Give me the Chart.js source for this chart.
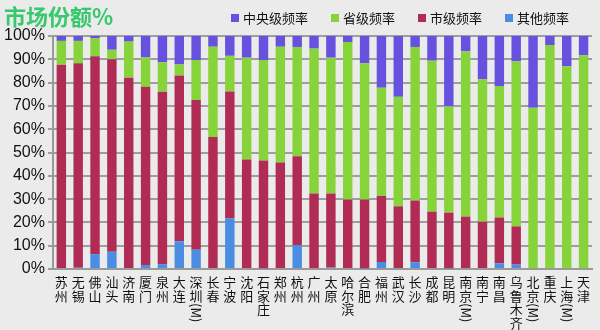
<!DOCTYPE html>
<html lang="zh">

<head>
    <meta charset="UTF-8">
    <script src="https://cdn.jsdelivr.net/npm/chart.js@4.4.3/dist/chart.umd.min.js"></script>
    <style>
        html, body {
            margin: 0;
            padding: 0;
            background: #ebebeb;
        }
    </style>
</head>

<body>
    <canvas id="chart" width="600" height="330"></canvas>

    <script>
        const cities = ["苏州", "无锡", "佛山", "汕头", "济南", "厦门", "泉州", "大连", "深圳(M)", "长春",
            "宁波", "沈阳", "石家庄", "郑州", "杭州", "广州", "太原", "哈尔滨", "合肥", "福州",
            "武汉", "长沙", "成都", "昆明", "南京(M)", "南宁", "南昌", "乌鲁木齐", "北京(M)", "重庆",
            "上海(M)", "天津"];

        // 其他频率 (bottom of each bar)
        const other = [0, 0.5, 6.4, 7.4, 0, 1.7, 2.1, 11.9, 8.3, 0,
            21.8, 0, 0.3, 0, 10.3, 0, 0.6, 0, 0.3, 3.0,
            0, 2.9, 0, 0.3, 0, 0, 2.4, 1.9, 0, 0,
            0, 0];
        // 市级频率
        const city = [87.7, 87.8, 84.9, 82.6, 82.1, 76.5, 74.0, 71.2, 64.2, 56.6,
            54.4, 47.0, 46.3, 45.7, 38.1, 32.4, 31.8, 29.8, 29.5, 28.4,
            26.9, 26.5, 24.6, 23.9, 22.5, 20.3, 19.7, 16.4, 0, 0,
            0, 0];
        // 省级频率
        const province = [10.2, 9.6, 7.7, 4.1, 15.5, 12.6, 12.6, 4.7, 17.2, 38.8,
            15.3, 43.7, 43.1, 49.7, 46.9, 62.2, 58.3, 67.6, 58.5, 46.4,
            47.0, 65.9, 64.8, 45.6, 70.9, 61.1, 56.4, 70.8, 69.2, 96.1,
            87.0, 91.7];
        // 中央级频率 (top of each bar)
        const central = [2.1, 2.1, 1.0, 5.9, 2.4, 9.2, 11.3, 12.2, 10.3, 4.6,
            8.5, 9.3, 10.3, 4.6, 4.7, 5.4, 9.3, 2.6, 11.7, 22.2,
            26.1, 4.7, 10.6, 30.2, 6.6, 18.6, 21.5, 10.9, 30.8, 3.9,
            13.0, 8.3];

        const COLORS = {
            central: "#6652de",
            province: "#86d43a",
            city: "#b02c55",
            other: "#4a8de2"
        };

        const FONT = "'Liberation Sans', 'Noto Sans CJK SC', sans-serif";
        const CJK = "'Noto Sans CJK SC', 'Liberation Sans', sans-serif";

        // title, legend and vertical category labels
        const decorations = {
            id: "decorations",
            afterDraw(chart) {
                let c = chart.ctx;
                c.save();

                c.fillStyle = "#37c96c";
                c.font = "bold 22px " + CJK;
                c.textBaseline = "top";
                c.textAlign = "left";
                c.fillText("市场份额%", 4, 6);

                let legend_items = [
                    ["中央级频率", COLORS.central],
                    ["省级频率", COLORS.province],
                    ["市级频率", COLORS.city],
                    ["其他频率", COLORS.other]
                ];
                c.font = "13px " + CJK;
                c.textBaseline = "middle";
                let x = 231;
                for (let [label, color] of legend_items) {
                    c.fillStyle = color;
                    c.fillRect(x, 14, 8, 8);
                    c.fillStyle = "#111";
                    c.fillText(label, x + 12, 18);
                    x += 12 + c.measureText(label).width + 23;
                }

                let xs = chart.scales.x;
                let top = chart.chartArea.bottom + 7;
                c.font = "13px " + CJK;
                c.fillStyle = "#111";
                cities.forEach((name, i) => {
                    let cx = xs.getPixelForValue(i);
                    let y = top;
                    let parts = name.match(/[\u4e00-\u9fff]|[^\u4e00-\u9fff]+/g);
                    for (let part of parts) {
                        if (/[\u4e00-\u9fff]/.test(part)) {
                            c.textAlign = "center";
                            c.textBaseline = "top";
                            c.fillText(part, cx, y);
                            y += 13.5;
                        } else {
                            let w = c.measureText(part).width;
                            c.save();
                            c.translate(cx, y);
                            c.rotate(Math.PI / 2);
                            c.textAlign = "left";
                            c.textBaseline = "middle";
                            c.fillText(part, 0, 0);
                            c.restore();
                            y += w + 1;
                        }
                    }
                });
                c.restore();
            }
        };

        new Chart(document.getElementById("chart"), {
            type: "bar",
            data: {
                labels: cities,
                datasets: [
                    { label: "其他频率", data: other, backgroundColor: COLORS.other },
                    { label: "市级频率", data: city, backgroundColor: COLORS.city },
                    { label: "省级频率", data: province, backgroundColor: COLORS.province },
                    { label: "中央级频率", data: central, backgroundColor: COLORS.central }
                ]
            },
            options: {
                responsive: false,
                animation: false,
                devicePixelRatio: 1,
                datasets: {
                    bar: {
                        categoryPercentage: 1,
                        barPercentage: 0.56
                    }
                },
                layout: {
                    padding: { top: 36, right: 8, bottom: 53, left: 1 }
                },
                plugins: {
                    legend: { display: false },
                    title: { display: false },
                    tooltip: { enabled: false }
                },
                scales: {
                    x: {
                        stacked: true,
                        grid: { display: false },
                        border: { display: true, color: "#9a9a9a", width: 2 },
                        ticks: { display: false }
                    },
                    y: {
                        stacked: true,
                        min: 0,
                        max: 100,
                        grid: { color: "#9e9e9e", lineWidth: 2, tickLength: 5 },
                        border: { color: "#9a9a9a", width: 2 },
                        ticks: {
                            stepSize: 10,
                            padding: 3,
                            color: "#111",
                            font: { size: 16, family: FONT },
                            callback: v => v + "%"
                        }
                    }
                }
            },
            plugins: [decorations]
        });
    </script>
</body>

</html>
